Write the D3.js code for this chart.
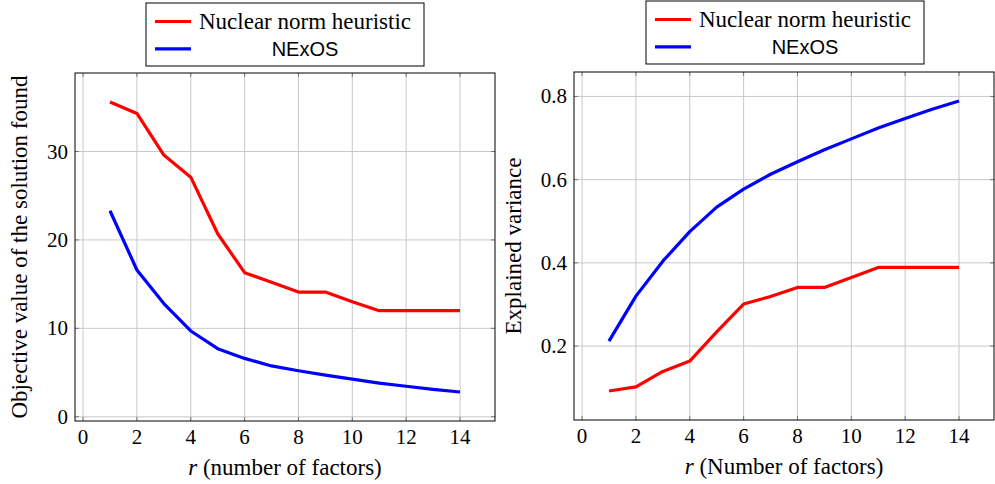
<!DOCTYPE html>
<html>
<head>
<meta charset="utf-8">
<script src="https://cdn.jsdelivr.net/npm/d3@7"></script>
<style>
  body { margin: 0; background: #fff; }
</style>
</head>
<body>
<svg id="chart" width="995" height="484"></svg>
<script>
// number of factors r
var rVals = [1, 2, 3, 4, 5, 6, 7, 8, 9, 10, 11, 12, 13, 14];

// left panel: objective value of the solution found
var objNuclear = [35.6, 34.3, 29.6, 27.1, 20.7, 16.3, 15.2, 14.1, 14.1, 13.0, 12.0, 12.0, 12.0, 12.0];
var objNexos   = [23.3, 16.6, 12.8, 9.7, 7.7, 6.6, 5.75, 5.2, 4.7, 4.25, 3.8, 3.45, 3.1, 2.8];

// right panel: explained variance
var varNuclear = [0.092, 0.102, 0.139, 0.164, 0.234, 0.301, 0.319, 0.341, 0.341, 0.365, 0.389, 0.389, 0.389, 0.389];
var varNexos   = [0.212, 0.320, 0.404, 0.475, 0.534, 0.577, 0.613, 0.643, 0.672, 0.698, 0.724, 0.747, 0.769, 0.789];

var xTicks = [0, 2, 4, 6, 8, 10, 12, 14];
var objTicks = [0, 10, 20, 30];
var varTicks = [0.2, 0.4, 0.6, 0.8];
var seriesNames = ["Nuclear norm heuristic", "NExOS"];
var seriesColors = ["#ff0000", "#0000ff"];

var SERIF = "'Liberation Serif', 'Times New Roman', serif";
var SANS = "'Liberation Sans', Arial, sans-serif";

var svg = d3.select("#chart");

// pgfplots style: enlarge limits by 10% of the range
function enlarged(arr) {
    var lo = d3.min(arr), hi = d3.max(arr), pad = (hi - lo) * 0.1;
    return [lo - pad, hi + pad];
}

function drawPanel(cfg) {
    var g = svg.append("g");
    var x = d3.scaleLinear().domain(enlarged(rVals)).range([cfg.left, cfg.right]);
    var y = d3.scaleLinear().domain(enlarged(cfg.series[0].concat(cfg.series[1]))).range([cfg.bottom, cfg.top]);

    // grid
    g.append("g").selectAll("line").data(xTicks).enter().append("line")
        .attr("x1", function(d) { return x(d); }).attr("x2", function(d) { return x(d); })
        .attr("y1", cfg.top).attr("y2", cfg.bottom)
        .attr("stroke", "#c8c8c8").attr("stroke-width", 1);
    g.append("g").selectAll("line").data(cfg.yTicks).enter().append("line")
        .attr("y1", function(d) { return y(d); }).attr("y2", function(d) { return y(d); })
        .attr("x1", cfg.left).attr("x2", cfg.right)
        .attr("stroke", "#c8c8c8").attr("stroke-width", 1);

    // inward ticks on all four sides
    var tk = 4;
    xTicks.forEach(function(d) {
        g.append("line").attr("x1", x(d)).attr("x2", x(d)).attr("y1", cfg.bottom).attr("y2", cfg.bottom - tk).attr("stroke", "#777");
        g.append("line").attr("x1", x(d)).attr("x2", x(d)).attr("y1", cfg.top).attr("y2", cfg.top + tk).attr("stroke", "#777");
    });
    cfg.yTicks.forEach(function(d) {
        g.append("line").attr("y1", y(d)).attr("y2", y(d)).attr("x1", cfg.left).attr("x2", cfg.left + tk).attr("stroke", "#777");
        g.append("line").attr("y1", y(d)).attr("y2", y(d)).attr("x1", cfg.right).attr("x2", cfg.right - tk).attr("stroke", "#777");
    });

    // tick labels
    g.append("g").selectAll("text").data(xTicks).enter().append("text")
        .attr("x", function(d) { return x(d); }).attr("y", cfg.bottom + 23)
        .attr("text-anchor", "middle")
        .style("font-family", SERIF).style("font-size", "21px")
        .text(function(d) { return d; });
    g.append("g").selectAll("text").data(cfg.yTicks).enter().append("text")
        .attr("x", cfg.left - 7).attr("y", function(d) { return y(d) + 7; })
        .attr("text-anchor", "end")
        .style("font-family", SERIF).style("font-size", "21px")
        .text(cfg.fmt);

    // series lines
    var line = d3.line().x(function(d) { return x(d[0]); }).y(function(d) { return y(d[1]); });
    cfg.series.forEach(function(s, i) {
        g.append("path").datum(d3.zip(rVals, s))
            .attr("d", line).attr("fill", "none")
            .attr("stroke", seriesColors[i]).attr("stroke-width", 3.2)
            .attr("stroke-linejoin", "round");
    });

    // frame
    g.append("rect").attr("x", cfg.left).attr("y", cfg.top)
        .attr("width", cfg.right - cfg.left).attr("height", cfg.bottom - cfg.top)
        .attr("fill", "none").attr("stroke", "#000").attr("stroke-width", 1);

    // axis titles
    var xt = g.append("text").attr("x", (cfg.left + cfg.right) / 2).attr("y", cfg.bottom + 54)
        .attr("text-anchor", "middle")
        .style("font-family", SERIF).style("font-size", "23px");
    xt.append("tspan").style("font-style", "italic").text("r");
    xt.append("tspan").text(" " + cfg.xTitle);

    g.append("text")
        .attr("transform", "translate(" + cfg.yTitleX + "," + ((cfg.top + cfg.bottom) / 2) + ") rotate(-90)")
        .attr("text-anchor", "middle")
        .style("font-family", SERIF).style("font-size", "23px")
        .text(cfg.yTitle);

    // legend
    var lg = svg.append("g");
    lg.append("rect").attr("x", cfg.legX).attr("y", cfg.legY).attr("width", 278).attr("height", 63)
        .attr("fill", "#fff").attr("stroke", "#000").attr("stroke-width", 1);
    seriesNames.forEach(function(name, i) {
        var yy = cfg.legY + 18.5 + i * 27.3;
        lg.append("line").attr("x1", cfg.legX + 9).attr("x2", cfg.legX + 45)
            .attr("y1", yy).attr("y2", yy)
            .attr("stroke", seriesColors[i]).attr("stroke-width", 3.2);
        var t = lg.append("text").attr("x", cfg.legX + 159).attr("y", yy + 7)
            .attr("text-anchor", "middle").text(name);
        if (i === 0) t.style("font-family", SERIF).style("font-size", "23px");
        else t.style("font-family", SANS).style("font-size", "20px");
    });
}

drawPanel({
    left: 75, right: 495, top: 73, bottom: 421,
    series: [objNuclear, objNexos], yTicks: objTicks,
    fmt: function(d) { return d; },
    xTitle: "(number of factors)", yTitle: "Objective value of the solution found",
    yTitleX: 27, legX: 146, legY: 3
});

drawPanel({
    left: 574, right: 994, top: 72, bottom: 420,
    series: [varNuclear, varNexos], yTicks: varTicks,
    fmt: function(d) { return d.toFixed(1); },
    xTitle: "(Number of factors)", yTitle: "Explained variance",
    yTitleX: 521, legX: 646, legY: 1
});
</script>
</body>
</html>
